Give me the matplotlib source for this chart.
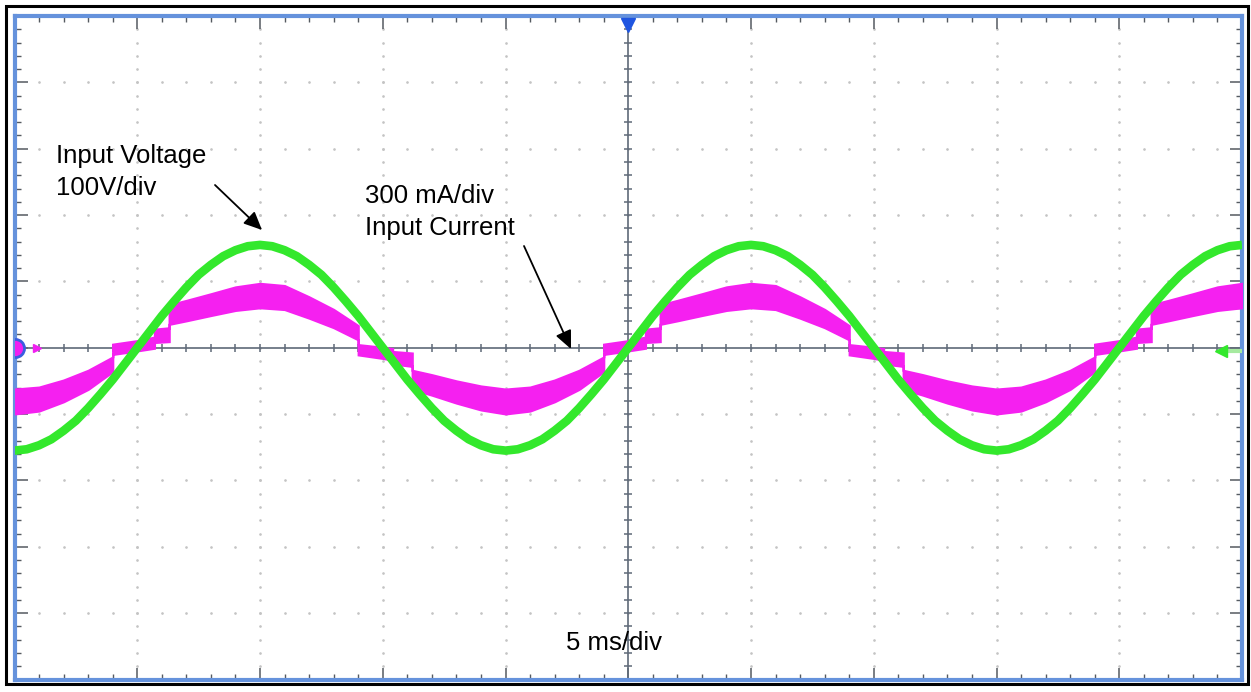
import numpy as np
import matplotlib
matplotlib.use("Agg")
import matplotlib.pyplot as plt
from matplotlib.patches import Rectangle
from matplotlib.ticker import MultipleLocator

plt.rcParams['font.family'] = ['Liberation Sans', 'DejaVu Sans']

# ---------------- data (read from the screen capture) ----------------
# time base: 5 ms/div, 10 divisions
t_volt = np.arange(-25.0, 25.01, 0.5)          # ms
# input voltage (V), 100 V/div
v_in = [-155, -153, -147, -138, -125, -110, -91, -70, -48, -24, 0,
        24, 48, 70, 91, 110, 125, 138, 147, 153, 155,
        153, 147, 138, 125, 110, 91, 70, 48, 24, 0,
        -24, -48, -70, -91, -110, -125, -138, -147, -153, -155,
        -153, -147, -138, -125, -110, -91, -70, -48, -24, 0,
        24, 48, 70, 91, 110, 125, 138, 147, 153, 155,
        153, 147, 138, 125, 110, 91, 70, 48, 24, 0,
        -24, -48, -70, -91, -110, -125, -138, -147, -153, -155,
        -153, -147, -138, -125, -110, -91, -70, -48, -24, 0,
        24, 48, 70, 91, 110, 125, 138, 147, 153, 155]

# input current (mA), 300 mA/div: trace centre and half thickness of the noisy band
t_cur = [-25, -24, -23, -22, -21, -21,
         -20, -19.3, -19.3, -18.7, -18.7,
         -18, -17, -16, -15, -14, -13, -12,
         -11, -11,
         -10, -9.6, -9.6, -8.8, -8.8,
         -8, -7, -6, -5, -4, -3, -2,
         -1, -1,
         0, 0.7, 0.7, 1.3, 1.3,
         2, 3, 4, 5, 6, 7, 8,
         9, 9,
         10, 10.4, 10.4, 11.2, 11.2,
         12, 13, 14, 15, 16, 17, 18,
         19, 19,
         20, 20.7, 20.7, 21.3, 21.3,
         22, 23, 24, 25]
i_cur = [-243, -232, -195, -145, -75, -7,
         9, 23, 54, 59, 150,
         168, 195, 222, 236, 227, 182, 132,
         68, -9,
         -23, -30, -45, -54, -145,
         -168, -200, -227, -243, -232, -195, -145,
         -75, -7,
         9, 23, 54, 59, 150,
         168, 195, 222, 236, 227, 182, 132,
         68, -9,
         -23, -30, -45, -54, -145,
         -168, -200, -227, -243, -232, -195, -145,
         -75, -7,
         9, 23, 54, 59, 150,
         168, 195, 222, 236]
i_half = [56, 54, 49, 43, 33, 23,
          23, 25, 30, 31, 44,
          46, 49, 53, 55, 54, 48, 41,
          32, 23,
          25, 26, 28, 30, 43,
          46, 50, 54, 56, 54, 49, 43,
          33, 23,
          23, 25, 30, 31, 44,
          46, 49, 53, 55, 54, 48, 41,
          32, 23,
          25, 26, 28, 30, 43,
          46, 50, 54, 56, 54, 49, 43,
          33, 23,
          23, 25, 30, 31, 44,
          46, 49, 53, 55]

labels = {
    'volt': ["Input Voltage", "100V/div"],
    'cur': ["300 mA/div", "Input Current"],
    'time': "5 ms/div",
}

# ---------------- figure ----------------
W, H = 1251, 692
fig = plt.figure(figsize=(W / 100, H / 100), dpi=100)
fig.patch.set_facecolor('white')

def fx(px):
    return px / W

def fy(py):
    return 1 - py / H

L, R, T, B = 14.5, 1242.0, 16.0, 679.5
ax = fig.add_axes([fx(L), fy(B), fx(R - L), (B - T) / H])
ax.set_xlim(-25, 25)
ax.set_ylim(-1500, 1500)        # current axis, 300 mA/div
ax.set_facecolor('white')

ax2 = ax.twinx()
ax2.set_ylim(-500, 500)         # voltage axis, 100 V/div
ax2.yaxis.set_visible(False)
for s in ax2.spines.values():
    s.set_visible(False)

frame_col = '#6592dc'
for s in ax.spines.values():
    s.set_color(frame_col)
    s.set_linewidth(3.0)

tick_col = '#555a60'
ax.xaxis.set_major_locator(MultipleLocator(5))
ax.xaxis.set_minor_locator(MultipleLocator(1))
ax.yaxis.set_major_locator(MultipleLocator(300))
ax.yaxis.set_minor_locator(MultipleLocator(60))
ax.tick_params(which='both', direction='in', top=True, bottom=True, left=True, right=True,
               labelbottom=False, labelleft=False, labelright=False, labeltop=False,
               color=tick_col)
ax.tick_params(which='major', length=9, width=1.1)
ax.tick_params(which='minor', length=4.5, width=1.0)

# dotted graticule
grid_col = '#c4c4c4'
x_minor = np.arange(-25, 25.001, 1)
y_minor = np.arange(-1500, 1500.001, 60)
for xk in [-20, -15, -10, -5, 5, 10, 15, 20]:
    ax.plot(np.full_like(y_minor, xk, dtype=float), y_minor, ls='', marker='.',
            ms=1.8, color=grid_col, zorder=1)
for yk in [-1200, -900, -600, -300, 300, 600, 900, 1200]:
    ax.plot(x_minor, np.full_like(x_minor, yk, dtype=float), ls='', marker='.',
            ms=1.8, color=grid_col, zorder=1)

# centre axes with minor ticks
axis_col = '#5f6a78'
ax.axhline(0, color=axis_col, lw=1.2, zorder=2)
ax.axvline(0, color=axis_col, lw=1.2, zorder=2)
ax.plot(x_minor, np.zeros_like(x_minor), ls='', marker='|', ms=6, mew=1.1,
        color=axis_col, zorder=2)
ax.plot(np.zeros_like(y_minor), y_minor, ls='', marker='_', ms=6, mew=1.1,
        color=axis_col, zorder=2)

# current trace (magenta band)
mag = '#f520f0'
c = np.array(i_cur, dtype=float)
h = np.array(i_half, dtype=float)
ax.fill_between(t_cur, c - h, c + h, facecolor=mag, edgecolor=mag, lw=1.6,
                joinstyle='miter', zorder=3)

# voltage trace (green)
ax2.plot(t_volt, v_in, color='#33e82c', lw=6.2, solid_capstyle='butt', zorder=4)

# channel / trigger markers
ax.plot([-25], [0], marker='o', ms=13, mfc='#f020f0', mec='#3a5ee0', mew=2.0,
        clip_on=True, zorder=5)
ax.plot([-24.1], [0], marker='>', ms=6, color='#f020f0', zorder=5)
ax2.plot([24.15], [-5], marker='<', ms=9, color='#33e82c', zorder=5, clip_on=False)
ax2.plot([24.45, 25], [-5, -5], color='#a6eaa0', lw=3, zorder=4, solid_capstyle='butt')
ax2.plot([0], [486], marker='v', ms=10, color='#1f55e0', zorder=6, clip_on=False)

# annotations
fs = 18.5
fig.text(fx(56), fy(163), labels['volt'][0], fontsize=fs, va='baseline', ha='left')
fig.text(fx(56), fy(195), labels['volt'][1], fontsize=fs, va='baseline', ha='left')
fig.text(fx(365), fy(203), labels['cur'][0], fontsize=fs, va='baseline', ha='left')
fig.text(fx(365), fy(235), labels['cur'][1], fontsize=fs, va='baseline', ha='left')
fig.text(fx(566), fy(650), labels['time'], fontsize=fs, va='baseline', ha='left')

arrow_kw = dict(arrowstyle='-|>,head_length=1.1,head_width=0.5', lw=1.3,
                color='black', shrinkA=0, shrinkB=0, mutation_scale=10)
ax.annotate('', xy=(fx(262), fy(230)), xytext=(fx(215), fy(185)),
            xycoords='figure fraction', textcoords='figure fraction',
            arrowprops=arrow_kw, zorder=10)
ax.annotate('', xy=(fx(571), fy(349)), xytext=(fx(524), fy(246)),
            xycoords='figure fraction', textcoords='figure fraction',
            arrowprops=arrow_kw, zorder=10)

# outer black border
fig.patches.append(Rectangle((fx(6), fy(684)), fx(1241.5), (684 - 6) / H,
                             transform=fig.transFigure, fill=False, ec='black',
                             lw=2.2, zorder=20))

fig.savefig('out.png', dpi=100, facecolor='white')
